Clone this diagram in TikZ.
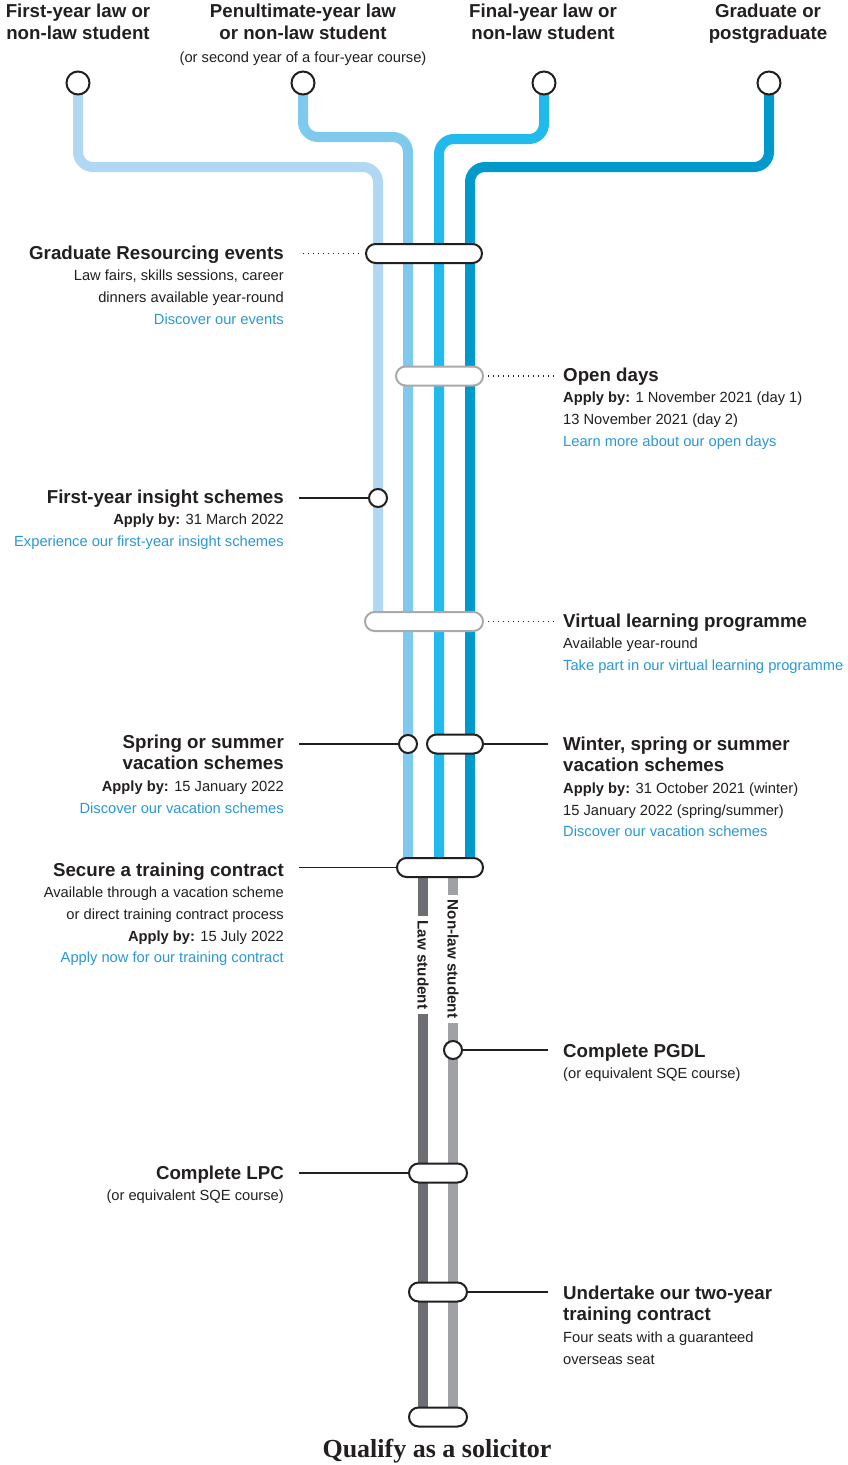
\documentclass[tikz,border=0pt]{standalone}
\usepackage{fontspec}
\setmainfont{Liberation Sans}
\newfontfamily\qualfont{Liberation Serif}
\pgfdeclarelayer{bg}
\pgfsetlayers{bg,main}
\definecolor{ink}{HTML}{231F20}
\definecolor{link}{HTML}{2A98D5}
\definecolor{trackA}{HTML}{B0D8F2}
\definecolor{trackB}{HTML}{7FC9EF}
\definecolor{trackC}{HTML}{22B9EC}
\definecolor{trackD}{HTML}{0099CC}
\definecolor{lawgrey}{HTML}{6D6E71}
\definecolor{nonlawgrey}{HTML}{A0A1A4}
\definecolor{pillgrey}{HTML}{A7A9AC}
\newcommand\ttl[1]{{\fontsize{18.7}{21.7}\selectfont\bfseries #1}}
\newcommand\lnk[1]{\textcolor{link}{#1}}
\begin{document}
\begin{tikzpicture}[x=1pt,y=-1pt,
  track/.style={line width=10pt,rounded corners=15pt},
  stop/.style={draw=ink,fill=white,line width=2pt,circle,inner sep=0pt,minimum size=18pt},
  start/.style={stop,minimum size=23pt},
  pill/.style={draw=ink,fill=white,line width=2pt,rectangle,rounded corners=9.5pt,inner sep=0pt,minimum height=19pt},
  greypill/.style={pill,draw=pillgrey},
  link/.style={ink,line width=1.8pt},
  dotlink/.style={ink,line width=1.1pt,dash pattern=on 1pt off 4pt},
  lblock/.style={font=\fontsize{14.7}{21.7}\selectfont,text=ink,inner sep=0pt,align=right,anchor=base east},
  rblock/.style={font=\fontsize{14.7}{21.7}\selectfont,text=ink,inner sep=0pt,align=left,anchor=base west},
  tblock/.style={font=\fontsize{14.7}{22}\selectfont,text=ink,inner sep=0pt,align=center,anchor=base},
  trklabel/.style={font=\fontsize{15.2}{16}\selectfont\bfseries,text=ink,fill=white,rotate=-90,inner xsep=5pt,inner ysep=1pt}]
\useasboundingbox (0,0) rectangle (847,1465);

% headings (anchored on the last line)
\node[tblock] (h1) at (78,39) {\ttl{First-year law or}\\\ttl{non-law student}};
\node[tblock] (h2) at (303,62) {\ttl{Penultimate-year law}\\\ttl{or non-law student}\\[1pt](or second year of a four-year course)};
\node[tblock] (h3) at (543,39) {\ttl{Final-year law or}\\\ttl{non-law student}};
\node[tblock] (h4) at (768,39) {\ttl{Graduate or}\\\ttl{postgraduate}};

\node[start] (t1) at (78,83) {};
\node[start] (t2) at (303,83) {};
\node[start] (t3) at (544,83) {};
\node[start] (t4) at (769,83) {};

\node[pill,minimum width=116pt] (ev) at (424,253.5) {};
\node[greypill,minimum width=87pt] (od) at (439.5,376) {};
\node[stop] (fy) at (378,498) {};
\node[greypill,minimum width=118pt] (vl) at (424,621.5) {};
\node[stop] (sv) at (408,744) {};
\node[pill,minimum width=56pt] (ws) at (455,744) {};
\node[pill,minimum width=86pt] (tc) at (440,867.5) {};
\node[stop] (pg) at (453,1050) {};
\node[pill,minimum width=58pt] (lpc) at (438,1173) {};
\node[pill,minimum width=58pt] (ut) at (438,1292) {};
\node[pill,minimum width=58pt] (qs) at (438,1417) {};

\node[trklabel] (lawlab) at (423,965) {Law student};
\node[trklabel] (nonlawlab) at (453,959) {Non-law student};
\node[anchor=base,inner sep=0pt,text=ink,font=\qualfont\fontsize{26}{26}\selectfont\bfseries] (qual) at (437,1457) {Qualify as a solicitor};

\node[lblock] (evT) at (284,324.1) {\ttl{Graduate Resourcing events}\\Law fairs, skills sessions, career\\dinners available year-round\\\lnk{Discover our events}};
\node[rblock] (odT) at (563,446.1) {\ttl{Open days}\\\textbf{Apply by:} 1 November 2021 (day 1)\\13 November 2021 (day 2)\\\lnk{Learn more about our open days}};
\node[lblock] (fyT) at (284,546.4) {\ttl{First-year insight schemes}\\\textbf{Apply by:} 31 March 2022\\\lnk{Experience our first-year insight schemes}};
\node[rblock] (vlT) at (563,670.4) {\ttl{Virtual learning programme}\\Available year-round\\\lnk{Take part in our virtual learning programme}};
\node[lblock] (svT) at (284,813.1) {\ttl{Spring or summer}\\\ttl{vacation schemes}\\\textbf{Apply by:} 15 January 2022\\\lnk{Discover our vacation schemes}};
\node[rblock] (wsT) at (563,836.8) {\ttl{Winter, spring or summer}\\\ttl{vacation schemes}\\\textbf{Apply by:} 31 October 2021 (winter)\\15 January 2022 (spring/summer)\\\lnk{Discover our vacation schemes}};
\node[lblock] (tcT) at (284,962.8) {\ttl{Secure a training contract}\\Available through a vacation scheme\\or direct training contract process\\\textbf{Apply by:} 15 July 2022\\\lnk{Apply now for our training contract}};
\node[rblock] (pgT) at (563,1078.7) {\ttl{Complete PGDL}\\(or equivalent SQE course)};
\node[lblock] (lpcT) at (284,1200.7) {\ttl{Complete LPC}\\(or equivalent SQE course)};
\node[rblock] (utT) at (563,1364.1) {\ttl{Undertake our two-year}\\\ttl{training contract}\\Four seats with a guaranteed\\overseas seat};

\coordinate (evL) at (299,253.5);
\coordinate (odR) at (556,376);
\coordinate (vlR) at (556,621.5);
\coordinate (fyL) at (299,498);
\coordinate (svL) at (299,744);
\coordinate (wsR) at (548,744);
\coordinate (tcL) at (299,867.5);
\coordinate (pgR) at (548,1050);
\coordinate (lpcL) at (299,1173);
\coordinate (utR) at (548,1292);

\draw[dotlink] ([xshift=-6pt]ev.west) -- (evL);
\draw[dotlink] ([xshift=4pt]od.east) -- (odR);
\draw[dotlink] ([xshift=4pt]vl.east) -- (vlR);
\draw[link] (fyL) -- (fy);
\draw[link] (svL) -- (sv);
\draw[link] (ws) -- (wsR);
\draw[link] (tcL) -- (tc);
\draw[link] (pg) -- (pgR);
\draw[link] (lpcL) -- (lpc);
\draw[link] (ut) -- (utR);

\begin{pgfonlayer}{bg}
\fill[white] (0,0) rectangle (847,1465);
\draw[track,trackA] (t1.center) |- (378,167) -- (378,621);
\draw[track,trackB] (t2.center) |- (408,137) -- (408,867);
\draw[track,trackC] (t3.center) |- (439,139) -- (439,867);
\draw[track,trackD] (t4.center) |- (470,167) -- (470,867);
\draw[track,lawgrey] (423,867) -- (423,1417);
\draw[track,nonlawgrey] (453,867) -- (453,1417);
\end{pgfonlayer}
\end{tikzpicture}
\end{document}
